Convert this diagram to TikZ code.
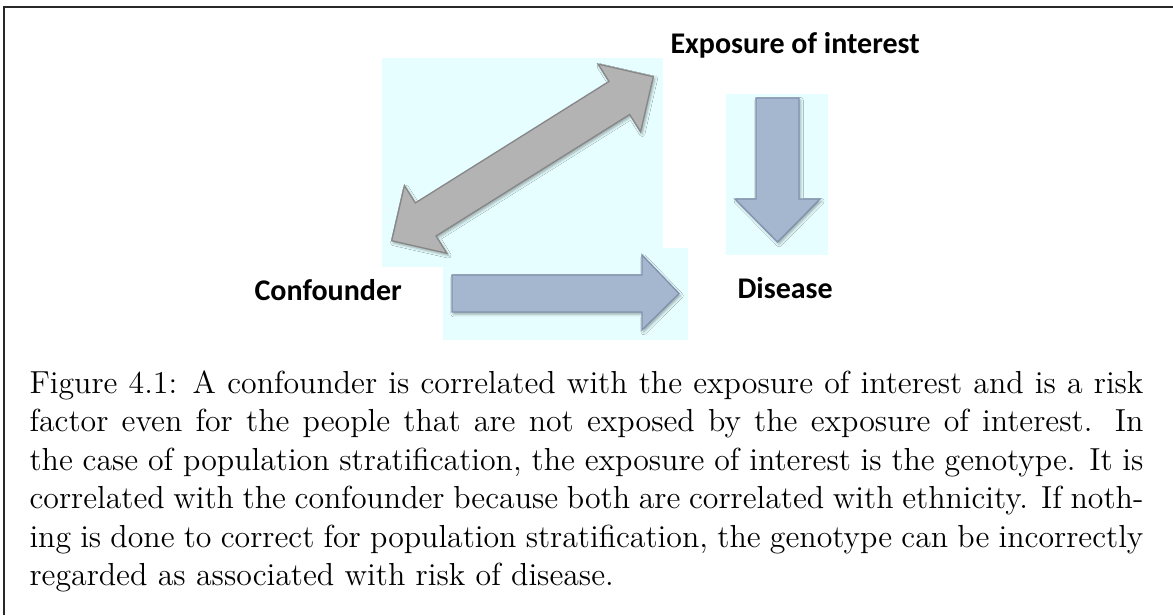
\documentclass[tikz,border=0pt]{standalone}
\usepackage{fontspec}
\newfontfamily\labelfont{Carlito}
\usetikzlibrary{shadows.blur}

\definecolor{panelcyan}{RGB}{230,254,255}
\definecolor{greyfill}{RGB}{179,179,179}
\definecolor{greyline}{RGB}{135,135,135}
\definecolor{bluefill}{RGB}{165,182,207}
\definecolor{blueline}{RGB}{128,146,173}
\definecolor{framegrey}{RGB}{40,40,40}

\tikzset{
  panel/.style={fill=panelcyan, draw=none},
  blockarrow/.style={line width=0.5pt, line join=miter,
    blur shadow={shadow xshift=0.6pt, shadow yshift=-0.8pt,
                 shadow blur radius=1pt, shadow opacity=35}},
  greyarrow/.style={blockarrow, fill=greyfill, draw=greyline},
  bluearrow/.style={blockarrow, fill=bluefill, draw=blueline},
  label/.style={inner sep=0pt, anchor=base west,
    font=\labelfont\bfseries\fontsize{11.3}{13.5}\selectfont},
  caption/.style={inner sep=0pt, anchor=base west}
}

\begin{document}
\begin{tikzpicture}[x=0.3766pt, y=-0.3766pt]
  \useasboundingbox (0,0) rectangle (1173,615);

  % frame around the figure
  \draw[framegrey, line width=0.6pt] (4,615) -- (4,6.7) -- (1173,6.7);

  % light panels behind the arrows
  \fill[panel] (382,58) rectangle (663,267);
  \fill[panel] (443,248) rectangle (688,340);
  \fill[panel] (726,94) rectangle (828,255);

  % two-headed arrow: confounder <-> exposure
  \begin{scope}[shift={(522.5,158.7)}, rotate=32.1]
    \filldraw[greyarrow]
      (-154.4,0) -- (-114.3,-40) -- (-114.3,-19.5) -- (114.3,-19.5)
      -- (114.3,-40) -- (154.4,0) -- (114.3,40) -- (114.3,19.5)
      -- (-114.3,19.5) -- (-114.3,40) -- cycle;
  \end{scope}

  % exposure -> disease
  \filldraw[bluearrow]
    (756,98) -- (799,98) -- (799,199) -- (820,199) -- (777.5,242)
    -- (735,199) -- (756,199) -- cycle;

  % confounder -> disease
  \filldraw[bluearrow]
    (452,275) -- (642,275) -- (642,255) -- (679,293.5) -- (642,330)
    -- (642,312) -- (452,312) -- cycle;

  % labels
  \node[label] (exposure) at (670,53) {Exposure of interest};
  \node[label] (confounder) at (254,300) {Confounder};
  \node[label] (disease) at (737,298) {Disease};

  % caption
  \node[caption] (cap) at (29,393) {\parbox[t]{419.5pt}{\fontsize{12}{14.5}\selectfont
    Figure 4.1: A confounder is correlated with the exposure of interest and is a risk\linebreak
    factor even for the people that are not exposed by the exposure of interest. In\linebreak
    the case of population stratification, the exposure of interest is the genotype. It is\linebreak
    correlated with the confounder because both are correlated with ethnicity. If noth-\linebreak
    ing is done to correct for population stratification, the genotype can be incorrectly\linebreak
    regarded as associated with risk of disease.}};
\end{tikzpicture}
\end{document}
